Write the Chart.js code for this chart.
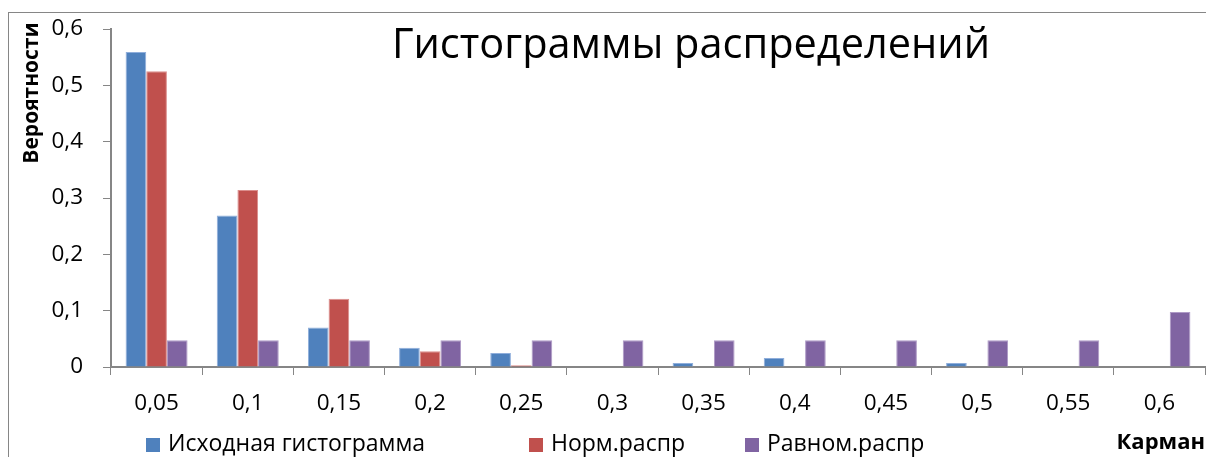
<!DOCTYPE html>
<html>
<head>
<meta charset="utf-8">
<script src="https://cdn.jsdelivr.net/npm/chart.js@4.4.1/dist/chart.umd.min.js"></script>
<style>
  html, body { margin: 0; padding: 0; background: #fff; }
  #wrap { width: 1206px; height: 457px; position: relative; }
</style>
</head>
<body>
<div id="wrap"><canvas id="c" width="1206" height="457"></canvas></div>
<script>
const chartTitle = 'Гистограммы распределений';
const yAxisTitle = 'Вероятности';
const xAxisTitle = 'Карман';
const categories = ['0,05', '0,1', '0,15', '0,2', '0,25', '0,3', '0,35', '0,4', '0,45', '0,5', '0,55', '0,6'];
const seriesNames = ['Исходная гистограмма', 'Норм.распр', 'Равном.распр'];
const sourceHist = [0.559, 0.269, 0.070, 0.034, 0.025, 0, 0.007, 0.016, 0, 0.007, 0, 0];
const normDist = [0.525, 0.314, 0.121, 0.028, 0.003, 0, 0, 0, 0, 0, 0, 0];
const uniformDist = [0.0476, 0.0476, 0.0476, 0.0476, 0.0476, 0.0476, 0.0476, 0.0476, 0.0476, 0.0476, 0.0476, 0.0976];
const yTickValues = [0, 0.1, 0.2, 0.3, 0.4, 0.5, 0.6];

const colors = ['#4F81BD', '#C0504D', '#8064A2'];
const borders = ['#8FAEDB', '#DB8E8C', '#AE9AC6'];
const FONT = 'Open Sans';
const axisColor = '#868686';

const decor = {
  id: 'decor',
  beforeDraw(chart) {
    const ctx = chart.ctx;
    ctx.save();
    ctx.fillStyle = '#fff';
    ctx.fillRect(0, 0, chart.width, chart.height);
    ctx.strokeStyle = axisColor;
    ctx.lineWidth = 1;
    ctx.strokeRect(8.5, 12.5, 1400, 600);
    ctx.restore();
  },
  afterDraw(chart) {
    const ctx = chart.ctx;
    ctx.save();
    // title
    ctx.fillStyle = '#000';
    ctx.font = '41.5px "' + FONT + '"';
    ctx.textAlign = 'center';
    ctx.textBaseline = 'middle';
    ctx.fillText(chartTitle, 691, 46);
    // y axis title
    ctx.save();
    ctx.translate(32, 93);
    ctx.rotate(-Math.PI / 2);
    ctx.font = 'bold 21px "' + FONT + '"';
    ctx.fillText(yAxisTitle, 0, 0);
    ctx.restore();
    // x axis title
    ctx.font = 'bold 22px "' + FONT + '"';
    ctx.textAlign = 'right';
    ctx.fillText(xAxisTitle, 1205, 443);
    // legend
    const legendX = [146, 529, 745];
    ctx.font = '23px "' + FONT + '"';
    ctx.textAlign = 'left';
    chart.data.datasets.forEach((ds, i) => {
      ctx.fillStyle = ds.backgroundColor;
      ctx.fillRect(legendX[i], 438, 14, 14);
      ctx.fillStyle = '#000';
      ctx.fillText(ds.label, legendX[i] + 22, 444);
    });
    ctx.restore();
  }
};

const datasets = [sourceHist, normDist, uniformDist].map((d, i) => ({
  label: seriesNames[i],
  data: d,
  backgroundColor: colors[i],
  borderColor: borders[i],
  borderWidth: 1,
  categoryPercentage: 0.68,
  barPercentage: 1.0
}));

new Chart(document.getElementById('c'), {
  type: 'bar',
  data: { labels: categories, datasets },
  options: {
    responsive: false,
    animation: false,
    layout: { padding: { top: 29, right: 1, left: 0, bottom: 0 } },
    plugins: { legend: { display: false }, title: { display: false }, tooltip: { enabled: false } },
    scales: {
      x: {
        grid: { drawOnChartArea: false, drawTicks: true, tickLength: 8, color: axisColor, offset: true },
        border: { color: axisColor, width: 2 },
        ticks: { color: '#000', font: { family: FONT, size: 22.5 }, padding: 15, maxRotation: 0, autoSkip: false },
        afterFit(scale) { scale.height = 90; scale.paddingLeft = 0; scale.paddingRight = 0; }
      },
      y: {
        min: 0, max: 0.6,
        afterBuildTicks(scale) { scale.ticks = yTickValues.map(v => ({ value: v })); },
        grid: { drawOnChartArea: false, drawTicks: true, tickLength: 8, color: axisColor },
        border: { color: axisColor, width: 2 },
        ticks: {
          color: '#000', font: { family: FONT, size: 22.5 }, padding: 20,
          callback: v => v === 0 ? '0' : v.toFixed(1).replace('.', ',')
        },
        afterFit(scale) { scale.width = 111; scale.paddingTop = 0; scale.paddingBottom = 0; }
      }
    }
  },
  plugins: [decor]
});
</script>
</body>
</html>
